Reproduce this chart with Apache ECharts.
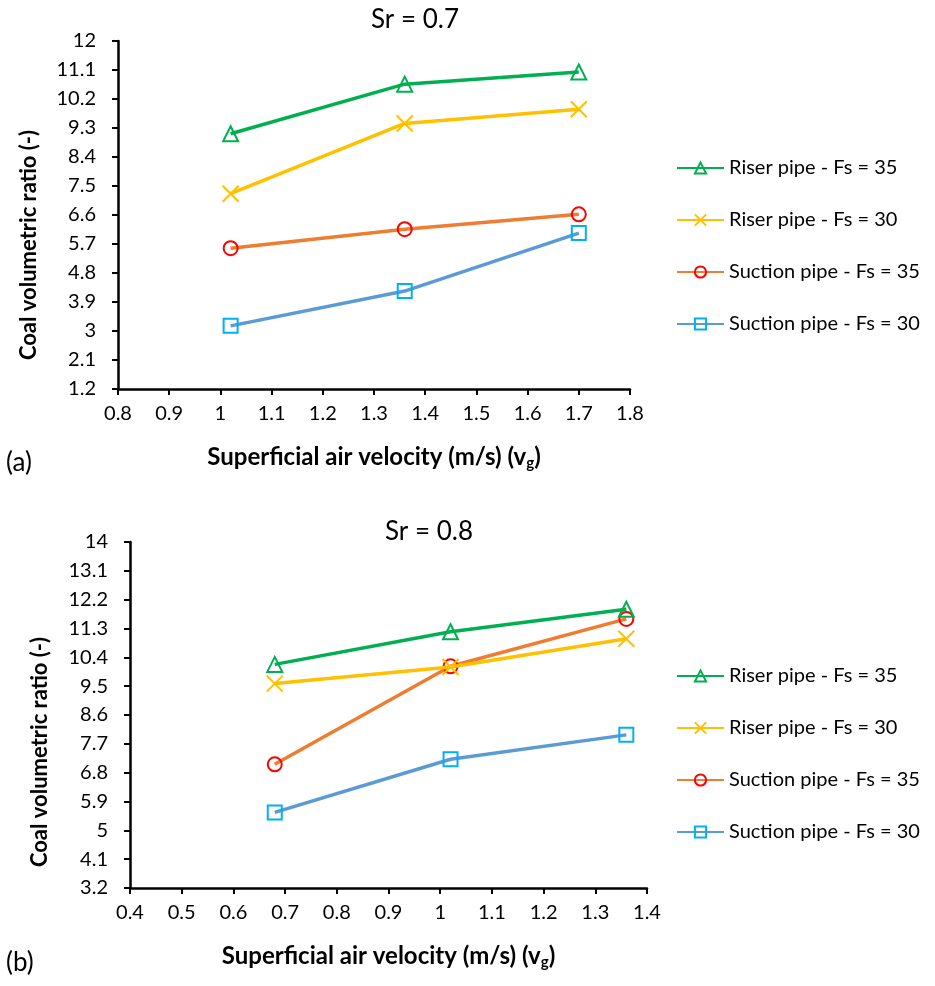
<!DOCTYPE html>
<html>
<head>
<meta charset="utf-8">
<script src="https://cdn.jsdelivr.net/npm/echarts@6/dist/echarts.min.js"></script>
<style>html,body{margin:0;padding:0;background:#fff}#c{width:935px;height:986px}</style>
</head>
<body>
<div id="c"></div>
<script>
// Data
const seriesNames = ['Riser pipe - Fs = 35', 'Riser pipe - Fs = 30', 'Suction pipe - Fs = 35', 'Suction pipe - Fs = 30'];
const xA = [1.02, 1.36, 1.70];
const riser35A = [9.12, 10.66, 11.04];
const riser30A = [7.26, 9.44, 9.88];
const suction35A = [5.57, 6.16, 6.62];
const suction30A = [3.16, 4.24, 6.04];
const xB = [0.68, 1.02, 1.36];
const riser35B = [10.18, 11.2, 11.9];
const riser30B = [9.58, 10.1, 10.98];
const suction35B = [7.06, 10.12, 11.6];
const suction30B = [5.56, 7.22, 7.98];
const titles = ['Sr = 0.7', 'Sr = 0.8'];
const panelLabels = ['(a)', '(b)'];
const yTitle = 'Coal volumetric ratio (-)';

const FONT = 'Lato';
const styles = [
  {line: '#00b050', sym: 'triangle', size: 15, stroke: '#00b050'},
  {line: '#ffc000', sym: 'path://M0,0L10,10M10,0L0,10', size: 16, stroke: '#ffc000'},
  {line: '#ed7d31', sym: 'circle', size: 14, stroke: '#ff0000'},
  {line: '#5b9bd5', sym: 'rect', size: 14, stroke: '#00b0f0'}
];
const dataA = [riser35A, riser30A, suction35A, suction30A];
const dataB = [riser35B, riser30B, suction35B, suction30B];

function mkSeries(xs, ys, idx, gi) {
  const s = styles[idx];
  return {
    name: seriesNames[idx], type: 'line', xAxisIndex: gi, yAxisIndex: gi,
    data: xs.map((x, i) => [x, ys[i]]),
    symbol: s.sym, symbolSize: s.size, showAllSymbol: true,
    lineStyle: {color: s.line, width: 3.5},
    itemStyle: {color: 'rgba(255,255,255,0)', borderColor: s.stroke, borderWidth: 2},
    emphasis: {disabled: true}, z: 2 + (3 - idx)
  };
}
const series = [];
dataA.forEach((d, i) => series.push(mkSeries(xA, d, i, 0)));
dataB.forEach((d, i) => series.push(mkSeries(xB, d, i, 1)));

function xAxis(gi, min, max) {
  return {
    type: 'value', gridIndex: gi, min: min, max: max, interval: 0.1,
    axisLine: {onZero: false, lineStyle: {color: '#000', width: 2.5}},
    axisTick: {show: true, length: 6, lineStyle: {color: '#000', width: 2}},
    splitLine: {show: false},
    axisLabel: {color: '#000', fontFamily: FONT, fontSize: 20, margin: 15, formatter: v => String(+v.toFixed(1))},
    name: '{a|Superficial air velocity (m/s) (v}{s|g}{a|)}', nameLocation: 'middle', nameGap: 55,
    nameTextStyle: {rich: {
      a: {fontFamily: FONT, fontWeight: 'bold', fontSize: 24, color: '#000'},
      s: {fontFamily: FONT, fontWeight: 'bold', fontSize: 15, color: '#000', verticalAlign: 'bottom', padding: [12, 0, 0, 0]}
    }}
  };
}
function yAxis(gi, min, max) {
  return {
    type: 'value', gridIndex: gi, min: min, max: max, interval: 0.9,
    axisLine: {show: true, onZero: false, lineStyle: {color: '#000', width: 2.5}},
    axisTick: {show: true, length: 6, lineStyle: {color: '#000', width: 2}},
    splitLine: {show: false},
    axisLabel: {color: '#000', fontFamily: FONT, fontSize: 20, margin: 22, formatter: v => String(+v.toFixed(1))}
  };
}

const chart = echarts.init(document.getElementById('c'), null, {renderer: 'canvas'});
chart.setOption({
  animation: false,
  backgroundColor: '#fff',
  title: [
    {text: titles[0], left: 410, top: 2, textAlign: 'center', textStyle: {fontFamily: FONT, fontWeight: 'normal', fontSize: 26, color: '#000'}},
    {text: titles[1], left: 424, top: 514, textAlign: 'center', textStyle: {fontFamily: FONT, fontWeight: 'normal', fontSize: 26, color: '#000'}}
  ],
  grid: [
    {left: 118, top: 41, width: 512, height: 348, containLabel: false},
    {left: 130, top: 542, width: 517, height: 346, containLabel: false}
  ],
  xAxis: [xAxis(0, 0.8, 1.8), xAxis(1, 0.4, 1.4)],
  yAxis: [yAxis(0, 1.2, 12), yAxis(1, 3.2, 14)],
  legend: [
    {orient: 'vertical', left: 671, top: 153, itemGap: 32, itemWidth: 47, itemHeight: 14,
     data: seriesNames, textStyle: {fontFamily: FONT, fontSize: 20, color: '#000'}},
    {orient: 'vertical', left: 671, top: 661, itemGap: 32, itemWidth: 47, itemHeight: 14,
     data: seriesNames, textStyle: {fontFamily: FONT, fontSize: 20, color: '#000'}}
  ],
  graphic: [
    {type: 'text', x: 29, y: 245, rotation: Math.PI / 2,
     style: {text: yTitle, font: 'bold 22px ' + FONT, fill: '#000', align: 'center', verticalAlign: 'middle'}},
    {type: 'text', x: 40, y: 752, rotation: Math.PI / 2,
     style: {text: yTitle, font: 'bold 22px ' + FONT, fill: '#000', align: 'center', verticalAlign: 'middle'}},
    {type: 'text', left: 6, top: 450, style: {text: panelLabels[0], font: '26px ' + FONT, fill: '#000'}},
    {type: 'text', left: 6, top: 950, style: {text: panelLabels[1], font: '26px ' + FONT, fill: '#000'}}
  ],
  series: series
});
</script>
</body>
</html>
